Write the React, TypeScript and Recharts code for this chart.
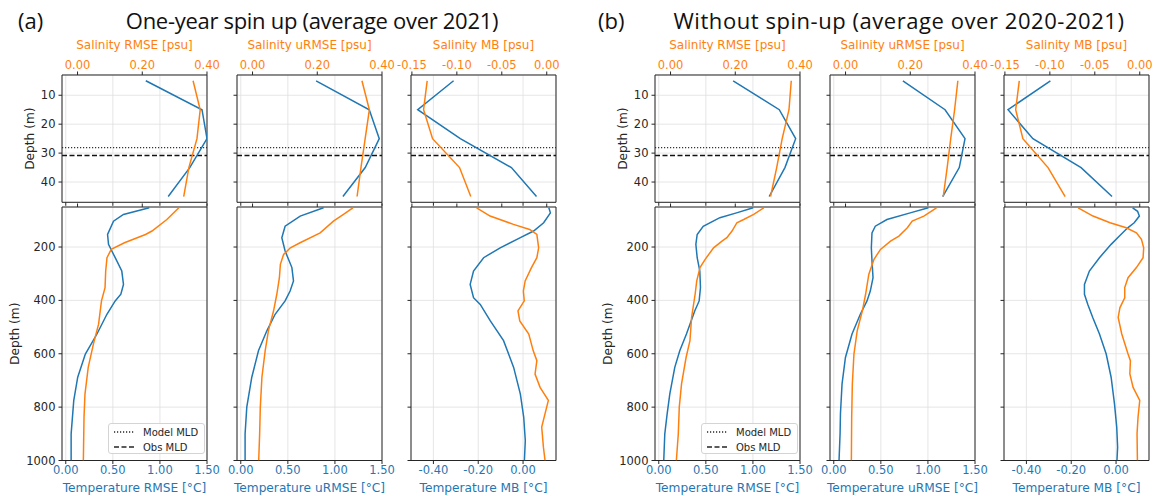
import React from "react";
import {
  ScatterChart,
  Scatter,
  XAxis,
  YAxis,
  CartesianGrid,
  ReferenceLine,
  Legend,
} from "recharts";

type Pair = [number, number]; // [depth (m), value]

const BLUE = "#1f77b4";
const ORANGE = "#ff7f0e";
const INK = "#262626";
const GRID = "#e0e0e0";
const FONT = "DejaVu Sans, sans-serif";
const TITLE_FONT = "Open Sans, sans-serif";

// upper 50 m: values at these depths
const TOP_DEPTHS = [5, 15, 25, 35, 45];
const TOP_DEPTH_TICKS = [10, 20, 30, 40];
const BOT_DEPTH_TICKS = [200, 400, 600, 800, 1000];
const MODEL_MLD = 28.1;
const OBS_MLD = 30.8;

// ---- (a) one-year spin up, upper layer
const A_T_RMSE_TOP = [0.85, 1.447, 1.5, 1.317, 1.088];
const A_S_RMSE_TOP = [0.357, 0.379, 0.369, 0.344, 0.328];
const A_T_URMSE_TOP = [0.8, 1.365, 1.471, 1.322, 1.085];
const A_S_URMSE_TOP = [0.338, 0.361, 0.348, 0.335, 0.323];
const A_T_MB_TOP = [-0.31, -0.47, -0.28, -0.052, 0.06];
const A_S_MB_TOP = [-0.133, -0.137, -0.127, -0.097, -0.0845];

// ---- (a) deep layer
const A_T_RMSE_BOT: Pair[] = [
  [53, 0.887], [78, 0.613], [103, 0.507], [153, 0.444], [190, 0.454], [240, 0.525],
  [290, 0.595], [340, 0.613], [377, 0.585], [402, 0.525], [452, 0.437], [526, 0.331],
  [601, 0.208], [688, 0.127], [775, 0.085], [900, 0.057], [1000, 0.057],
];
const A_S_RMSE_BOT: Pair[] = [
  [53, 0.313], [97, 0.276], [140, 0.23], [153, 0.21], [184, 0.145], [209, 0.104],
  [240, 0.091], [290, 0.087], [352, 0.085], [402, 0.074], [489, 0.065], [564, 0.049],
  [651, 0.033], [751, 0.023], [838, 0.02], [1000, 0.018],
];
const A_T_URMSE_BOT: Pair[] = [
  [53, 0.879], [84, 0.631], [122, 0.471], [165, 0.436], [215, 0.471], [277, 0.543],
  [327, 0.56], [365, 0.524], [402, 0.471], [452, 0.365], [514, 0.277], [589, 0.188],
  [688, 0.117], [800, 0.064], [900, 0.046], [1000, 0.046],
];
const A_S_URMSE_BOT: Pair[] = [
  [53, 0.31], [78, 0.281], [103, 0.25], [147, 0.209], [184, 0.147], [203, 0.117],
  [228, 0.096], [265, 0.086], [315, 0.083], [377, 0.075], [439, 0.065], [514, 0.049],
  [589, 0.039], [688, 0.029], [800, 0.024], [900, 0.022], [1000, 0.019],
];
const A_T_MB_BOT: Pair[] = [
  [53, 0.115], [72, 0.122], [109, 0.092], [140, 0.047], [165, -0.012], [203, -0.102],
  [240, -0.176], [290, -0.221], [340, -0.236], [390, -0.221], [415, -0.191], [477, -0.146],
  [551, -0.087], [651, -0.042], [751, -0.012], [838, 0.003], [925, 0.01], [1000, 0.006],
];
const A_S_MB_BOT: Pair[] = [
  [53, -0.078], [84, -0.063], [115, -0.037], [134, -0.019], [153, -0.011], [203, -0.009],
  [240, -0.011], [277, -0.017], [327, -0.024], [365, -0.026], [402, -0.025], [439, -0.032],
  [477, -0.03], [526, -0.02], [589, -0.015], [626, -0.011], [676, -0.013], [726, -0.0074],
  [775, 0.0018], [875, -0.0056], [950, -0.0037], [1000, -0.0019],
];

// ---- (b) without spin-up, upper layer
const B_T_RMSE_TOP = [0.79, 1.28, 1.454, 1.34, 1.173];
const B_S_RMSE_TOP = [0.373, 0.366, 0.345, 0.328, 0.309];
const B_T_URMSE_TOP = [0.734, 1.182, 1.394, 1.333, 1.157];
const B_S_URMSE_TOP = [0.347, 0.337, 0.325, 0.314, 0.302];
const B_T_MB_TOP = [-0.293, -0.482, -0.371, -0.156, -0.018];
const B_S_MB_TOP = [-0.134, -0.138, -0.13, -0.102, -0.083];

// ---- (b) deep layer
const B_T_RMSE_BOT: Pair[] = [
  [53, 1.003], [72, 0.826], [90, 0.649], [122, 0.472], [153, 0.408], [190, 0.394],
  [240, 0.408], [290, 0.436], [352, 0.443], [402, 0.429], [439, 0.383], [526, 0.294],
  [589, 0.223], [651, 0.17], [751, 0.117], [825, 0.089], [900, 0.064], [1000, 0.053],
];
const B_S_RMSE_BOT: Pair[] = [
  [53, 0.288], [78, 0.257], [97, 0.226], [109, 0.205], [140, 0.19], [165, 0.174],
  [178, 0.159], [203, 0.133], [246, 0.107], [277, 0.091], [327, 0.081], [377, 0.076],
  [464, 0.065], [551, 0.06], [614, 0.048], [713, 0.034], [800, 0.027], [900, 0.024],
  [1000, 0.018],
];
const B_T_URMSE_BOT: Pair[] = [
  [53, 1.005], [72, 0.812], [97, 0.565], [122, 0.441], [147, 0.406], [203, 0.399],
  [252, 0.406], [315, 0.417], [365, 0.388], [402, 0.353], [452, 0.282], [526, 0.194],
  [614, 0.124], [713, 0.088], [825, 0.071], [900, 0.067], [1000, 0.056],
];
const B_S_URMSE_BOT: Pair[] = [
  [53, 0.281], [84, 0.242], [103, 0.206], [128, 0.191], [159, 0.165], [178, 0.139],
  [209, 0.108], [246, 0.088], [302, 0.072], [377, 0.062], [439, 0.052], [514, 0.036],
  [601, 0.026], [713, 0.021], [838, 0.019], [1000, 0.018],
];
const B_T_MB_BOT: Pair[] = [
  [53, 0.074], [66, 0.096], [84, 0.104], [109, 0.081], [128, 0.052], [159, 0.015],
  [190, -0.022], [240, -0.074], [290, -0.119], [340, -0.141], [377, -0.141], [415, -0.126],
  [464, -0.104], [526, -0.074], [601, -0.044], [688, -0.022], [788, -0.007], [875, 0.003],
  [950, 0.007], [1000, 0.004],
];
const B_S_MB_BOT: Pair[] = [
  [53, -0.0685], [84, -0.052], [109, -0.033], [128, -0.015], [147, -0.0037], [171, 0.0019],
  [203, 0.0044], [240, 0.0037], [277, -0.0037], [315, -0.013], [352, -0.0167], [390, -0.0167],
  [427, -0.022], [464, -0.024], [526, -0.02], [601, -0.013], [626, -0.0104], [676, -0.011],
  [726, -0.0074], [775, 0.0], [838, -0.0019], [900, -0.003], [1000, -0.0026],
];

const MLD_ITEMS = [
  { name: "Model MLD", dash: "1.2 1.8" },
  { name: "Obs MLD", dash: "5 2.5" },
];

type Kind = "RMSE" | "uRMSE" | "MB";

const KINDS: Record<Kind, any> = {
  RMSE: {
    tDomain: [-0.04, 1.5], tTicks: [0, 0.5, 1, 1.5],
    sDomain: [-0.048, 0.4], sTicks: [0, 0.2, 0.4],
    tLabel: "Temperature RMSE [°C]", sLabel: "Salinity RMSE [psu]",
  },
  uRMSE: {
    tDomain: [-0.04, 1.5], tTicks: [0, 0.5, 1, 1.5],
    sDomain: [-0.048, 0.4], sTicks: [0, 0.2, 0.4],
    tLabel: "Temperature uRMSE [°C]", sLabel: "Salinity uRMSE [psu]",
  },
  MB: {
    tDomain: [-0.5, 0.147], tTicks: [-0.4, -0.2, 0],
    sDomain: [-0.151, 0.0103], sTicks: [-0.15, -0.1, -0.05, 0],
    tLabel: "Temperature MB [°C]", sLabel: "Salinity MB [psu]",
  },
};

interface Column {
  left: number;
  kind: Kind;
  first: boolean;
  tTop: number[];
  sTop: number[];
  tBot: Pair[];
  sBot: Pair[];
}

const COLUMNS: Column[] = [
  { left: 62, kind: "RMSE", first: true, tTop: A_T_RMSE_TOP, sTop: A_S_RMSE_TOP, tBot: A_T_RMSE_BOT, sBot: A_S_RMSE_BOT },
  { left: 236.6, kind: "uRMSE", first: false, tTop: A_T_URMSE_TOP, sTop: A_S_URMSE_TOP, tBot: A_T_URMSE_BOT, sBot: A_S_URMSE_BOT },
  { left: 411.4, kind: "MB", first: false, tTop: A_T_MB_TOP, sTop: A_S_MB_TOP, tBot: A_T_MB_BOT, sBot: A_S_MB_BOT },
  { left: 655, kind: "RMSE", first: true, tTop: B_T_RMSE_TOP, sTop: B_S_RMSE_TOP, tBot: B_T_RMSE_BOT, sBot: B_S_RMSE_BOT },
  { left: 829.5, kind: "uRMSE", first: false, tTop: B_T_URMSE_TOP, sTop: B_S_URMSE_TOP, tBot: B_T_URMSE_BOT, sBot: B_S_URMSE_BOT },
  { left: 1004, kind: "MB", first: false, tTop: B_T_MB_TOP, sTop: B_S_MB_TOP, tBot: B_T_MB_BOT, sBot: B_S_MB_BOT },
];

const FRAME_W = 145;
const RIGHT_PAD = 16;
const fmt2 = (v: number) => v.toFixed(2);
const blank = () => "";
const noDot = () => <g />;

const MldLegend = () => (
  <div
    style={{
      boxSizing: "border-box",
      width: 97,
      height: 31,
      border: "1px solid #d4d4d4",
      borderRadius: 3,
      background: "rgba(255,255,255,0.85)",
      padding: "1px 0 0 4px",
      fontFamily: FONT,
      fontSize: 10,
      color: INK,
    }}
  >
    {MLD_ITEMS.map((it) => (
      <div key={it.name} style={{ display: "flex", alignItems: "center", height: 15 }}>
        <svg width={22} height={8}>
          <line x1={1} y1={4} x2={21} y2={4} stroke={INK} strokeWidth={1.3} strokeDasharray={it.dash} />
        </svg>
        <span style={{ marginLeft: 8, lineHeight: "15px" }}>{it.name}</span>
      </div>
    ))}
  </div>
);

function Panel({ col, row }: { col: Column; row: "top" | "bot" }) {
  const k = KINDS[col.kind];
  const isTop = row === "top";
  const yW = col.first ? 62 : 22;
  const topH = isTop ? 40 : 5;
  const botH = isTop ? 5 : 36;
  const frameTop = isTop ? 75 : 206.5;
  const frameH = isTop ? 127.3 : 253.5;
  const width = yW + FRAME_W + RIGHT_PAD;
  const height = topH + frameH + botH;
  const midX = yW + FRAME_W / 2;

  const tData = isTop
    ? TOP_DEPTHS.map((d, i) => ({ d, v: col.tTop[i] }))
    : col.tBot.map(([d, v]) => ({ d, v }));
  const sData = isTop
    ? TOP_DEPTHS.map((d, i) => ({ d, v: col.sTop[i] }))
    : col.sBot.map(([d, v]) => ({ d, v }));

  const tickStyle = { fontSize: 11.5, fontFamily: FONT };

  return (
    <div style={{ position: "absolute", left: col.left - yW, top: frameTop - topH }}>
      <ScatterChart width={width} height={height} margin={{ top: 0, right: RIGHT_PAD, bottom: 0, left: 0 }}>
        <CartesianGrid stroke={GRID} strokeWidth={0.8} />
        <XAxis
          type="number"
          dataKey="v"
          orientation="bottom"
          domain={k.tDomain}
          ticks={k.tTicks}
          allowDataOverflow
          interval={0}
          height={botH}
          tickSize={3.5}
          tickMargin={2}
          tickLine={{ stroke: INK }}
          axisLine={{ stroke: INK }}
          tick={{ ...tickStyle, fill: BLUE }}
          tickFormatter={isTop ? blank : fmt2}
          label={
            isTop
              ? undefined
              : () => (
                  <text x={midX} y={topH + frameH + 27} textAnchor="middle" dominantBaseline="central"
                    fill={BLUE} fontSize={12.2} fontFamily={FONT}>
                    {k.tLabel}
                  </text>
                )
          }
        />
        <XAxis
          xAxisId="s"
          type="number"
          dataKey="v"
          orientation="top"
          domain={k.sDomain}
          ticks={k.sTicks}
          allowDataOverflow
          interval={0}
          height={topH}
          tickSize={3.5}
          tickMargin={2}
          tickLine={{ stroke: INK }}
          axisLine={{ stroke: INK }}
          tick={{ ...tickStyle, fill: ORANGE }}
          tickFormatter={isTop ? fmt2 : blank}
          label={
            isTop
              ? () => (
                  <text x={midX} y={10} textAnchor="middle" dominantBaseline="central"
                    fill={ORANGE} fontSize={12} fontFamily={FONT}>
                    {k.sLabel}
                  </text>
                )
              : undefined
          }
        />
        <YAxis
          type="number"
          dataKey="d"
          reversed
          domain={isTop ? [3, 47] : [50, 1000]}
          ticks={isTop ? TOP_DEPTH_TICKS : BOT_DEPTH_TICKS}
          allowDataOverflow
          interval={0}
          width={yW}
          tickSize={3.5}
          tickMargin={3}
          tickLine={{ stroke: INK }}
          axisLine={{ stroke: INK }}
          tick={{ ...tickStyle, fill: INK }}
          tickFormatter={col.first ? (v: number) => String(v) : blank}
          label={
            col.first
              ? () => {
                  const cx = yW - (isTop ? 31.5 : 47);
                  const cy = topH + frameH / 2;
                  return (
                    <text x={cx} y={cy} transform={`rotate(-90 ${cx} ${cy})`} textAnchor="middle"
                      dominantBaseline="central" fill={INK} fontSize={12.2} fontFamily={FONT}>
                      Depth (m)
                    </text>
                  );
                }
              : undefined
          }
        />
        <ReferenceLine x={k.tDomain[1]} stroke={INK} strokeWidth={1} />
        {isTop && <ReferenceLine y={MODEL_MLD} stroke="#333" strokeWidth={1.3} strokeDasharray="1.2 1.8" />}
        {isTop && <ReferenceLine y={OBS_MLD} stroke="#111" strokeWidth={1.4} strokeDasharray="5 2.5" />}
        <Scatter
          data={tData}
          line={{ stroke: BLUE, strokeWidth: 1.5 }}
          shape={noDot}
          fill={BLUE}
          isAnimationActive={false}
        />
        <Scatter
          xAxisId="s"
          data={sData}
          line={{ stroke: ORANGE, strokeWidth: 1.5 }}
          shape={noDot}
          fill={ORANGE}
          isAnimationActive={false}
        />
        {col.first && !isTop && (
          <Legend
            layout="horizontal"
            verticalAlign="middle"
            align="center"
            wrapperStyle={{ left: yW + 46, top: 221.2, width: 97, height: 31 }}
            content={() => <MldLegend />}
          />
        )}
      </ScatterChart>
    </div>
  );
}

const textStyle: React.CSSProperties = {
  position: "absolute",
  fontFamily: TITLE_FONT,
  fontSize: 22,
  lineHeight: "28px",
  color: "#111",
  whiteSpace: "nowrap",
};

export default function App() {
  return (
    <div style={{ position: "absolute", left: 0, top: 0, width: 1161, height: 496, background: "#fff" }}>
      <div style={{ ...textStyle, left: 18, top: 6 }}>(a)</div>
      <div style={{ ...textStyle, left: 62, top: 6, width: 500, textAlign: "center", letterSpacing: -0.3 }}>
        One-year spin up (average over 2021)
      </div>
      <div style={{ ...textStyle, left: 598, top: 6 }}>(b)</div>
      <div style={{ ...textStyle, left: 649, top: 6, width: 500, textAlign: "center", letterSpacing: 0.55 }}>
        Without spin-up (average over 2020-2021)
      </div>
      {COLUMNS.map((col, i) => (
        <React.Fragment key={i}>
          <Panel col={col} row="top" />
          <Panel col={col} row="bot" />
        </React.Fragment>
      ))}
    </div>
  );
}
